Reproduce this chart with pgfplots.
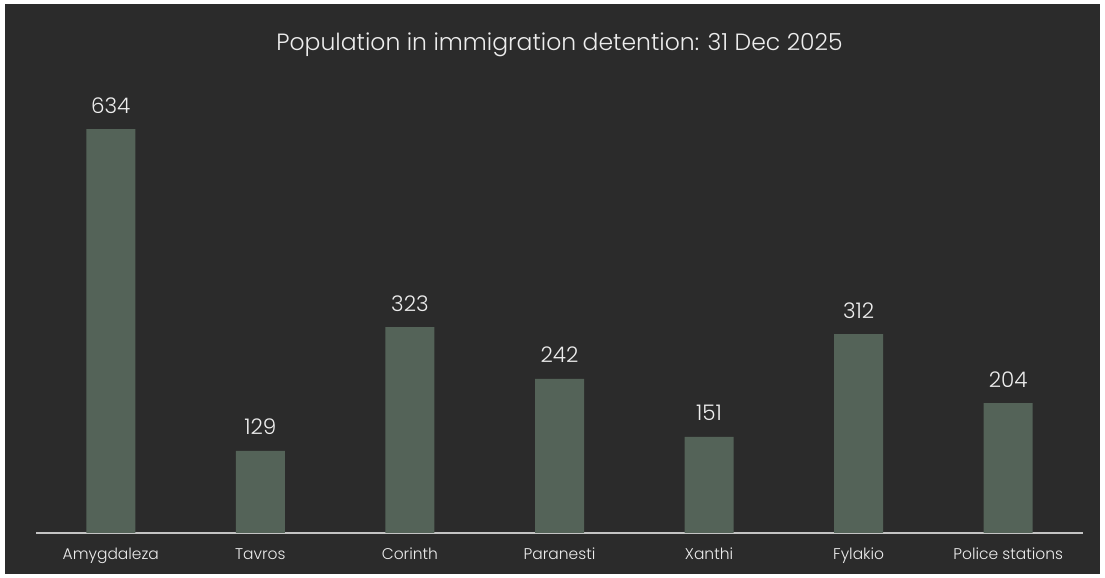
\documentclass[border=0pt]{standalone}
\usepackage{pgfplots}
\pgfplotsset{compat=1.18}
\usepackage{fontspec}
\setmainfont{Poppins Light}
\definecolor{bg}{HTML}{2B2B2B}
\definecolor{bar}{HTML}{546358}
\definecolor{txt}{HTML}{EDEDED}
\definecolor{axl}{HTML}{C4C4C4}
\begin{document}
\begin{tikzpicture}
\path[use as bounding box] (0,0) rectangle (1105bp,578bp);
\fill[white] (0,0) rectangle (1105bp,578bp);
\fill[bg] (5bp,4bp) rectangle (1100bp,574bp);
\begin{axis}[
  at={(36bp,45bp)}, anchor=south west,
  scale only axis, width=1047bp, height=446bp,
  xmin=-0.5, xmax=6.5, ymin=0, ymax=700,
  axis x line=bottom, axis y line=none,
  axis line style={-, axl, line width=1.6bp},
  xtick=data,
  xticklabels={Amygdaleza,Tavros,Corinth,Paranesti,Xanthi,Fylakio,Police stations},
  major tick length=0pt,
  xticklabel style={anchor=base, yshift=-27bp, font=\fontsize{15.5bp}{18bp}\selectfont, text=txt},
  ybar, bar width=49bp,
  /pgf/number format/assume math mode=true,
  nodes near coords,
  every node near coord/.append style={anchor=base, yshift=16bp, font=\fontsize{21.5bp}{24bp}\selectfont, text=txt},
  title={Population in immigration detention: 31 Dec 2025},
  title style={at={(0.5,1)}, anchor=base, yshift=31bp, font=\fontsize{23.5bp}{26bp}\selectfont, text=txt},
  clip=false,
]
\addplot[fill=bar, draw=none] coordinates {(0,634) (1,129) (2,323) (3,242) (4,151) (5,312) (6,204)};
\end{axis}
\end{tikzpicture}
\end{document}
